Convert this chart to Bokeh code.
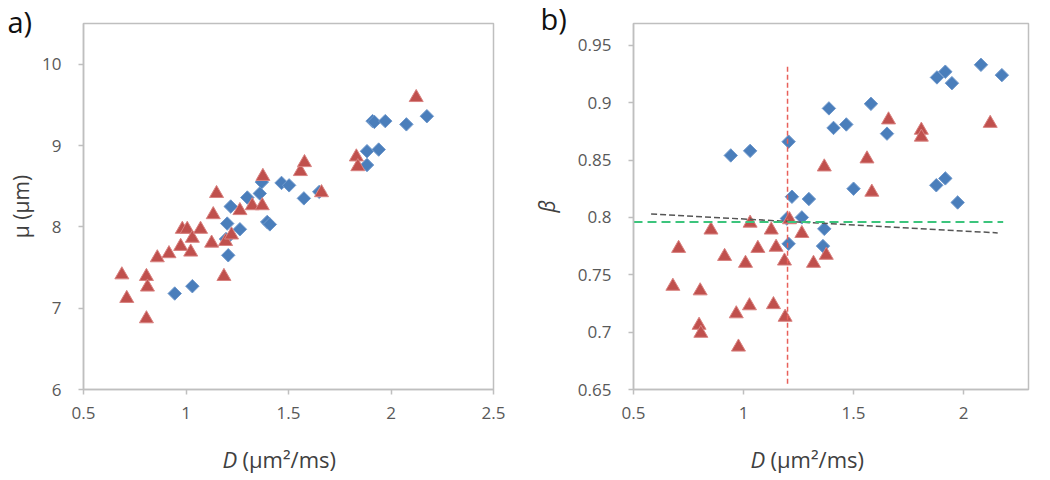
import numpy as np
from bokeh.plotting import figure
from bokeh.layouts import row
from bokeh.models import Title, Range1d, FixedTicker
from bokeh.embed import file_html
from bokeh.resources import INLINE

# ---- panel a) data: D vs mu ----
a_red_D = [0.687, 0.711, 0.807, 0.812, 0.807, 0.860, 0.917, 0.974, 0.982, 1.006,
           1.031, 1.023, 1.071, 1.125, 1.133, 1.149, 1.185, 1.193, 1.222, 1.263,
           1.323, 1.372, 1.375, 1.558, 1.578, 1.661, 1.831, 1.838, 2.123]
a_red_mu = [7.41, 7.12, 7.39, 7.26, 6.87, 7.62, 7.67, 7.76, 7.97, 7.97,
            7.86, 7.69, 7.97, 7.80, 8.15, 8.41, 7.39, 7.82, 7.90, 8.20,
            8.26, 8.26, 8.62, 8.68, 8.79, 8.42, 8.86, 8.74, 9.59]
a_blue_D = [0.945, 1.031, 1.206, 1.201, 1.218, 1.195, 1.263, 1.299, 1.360, 1.370,
            1.396, 1.409, 1.466, 1.503, 1.575, 1.650, 1.883, 1.883, 1.910, 1.919,
            1.940, 1.972, 2.075, 2.175]
a_blue_mu = [7.18, 7.27, 7.65, 8.04, 8.25, 7.85, 7.97, 8.36, 8.41, 8.55,
             8.06, 8.03, 8.54, 8.51, 8.35, 8.43, 8.76, 8.93, 9.30, 9.29,
             8.95, 9.30, 9.26, 9.36]

# ---- panel b) data: D vs beta ----
b_red_D = [0.679, 0.705, 0.803, 0.798, 0.806, 0.852, 0.914, 0.967, 0.977, 1.009,
           1.027, 1.030, 1.065, 1.126, 1.136, 1.148, 1.186, 1.189, 1.209, 1.265,
           1.318, 1.367, 1.376, 1.561, 1.583, 1.659, 1.808, 1.808, 2.121]
b_red_beta = [0.740, 0.773, 0.736, 0.706, 0.699, 0.789, 0.766, 0.716, 0.687, 0.760,
              0.723, 0.795, 0.773, 0.789, 0.724, 0.774, 0.762, 0.713, 0.798, 0.786,
              0.760, 0.844, 0.767, 0.851, 0.822, 0.885, 0.876, 0.870, 0.882]
b_blue_D = [0.942, 1.030, 1.205, 1.220, 1.197, 1.205, 1.265, 1.297, 1.367, 1.361,
            1.388, 1.409, 1.467, 1.500, 1.579, 1.652, 1.876, 1.917, 1.879, 1.917,
            1.947, 1.973, 2.079, 2.174]
b_blue_beta = [0.854, 0.858, 0.866, 0.818, 0.799, 0.777, 0.800, 0.816, 0.790, 0.775,
               0.895, 0.878, 0.881, 0.825, 0.899, 0.873, 0.828, 0.834, 0.922, 0.927,
               0.917, 0.813, 0.933, 0.924]

# reference lines in panel b)
vline_D = [1.2, 1.2]
vline_beta = [0.655, 0.932]
green_D = [0.5, 2.18]
green_beta = [0.796, 0.796]
trend_D = [0.58, 2.155]
trend_beta = [0.803, 0.7865]

a_xticks = [0.5, 1, 1.5, 2, 2.5]
a_yticks = [6, 7, 8, 9, 10]
b_xticks = [0.5, 1, 1.5, 2]
b_yticks = [0.65, 0.7, 0.75, 0.8, 0.85, 0.9, 0.95]

RED = "#C0504D"
RED_EDGE = "#D98280"
BLUE = "#4A7EBB"
BLUE_EDGE = "#6F98CC"
FONT = "Open Sans"
FRAME = "#BFBFBF"
TICKC = "#595959"
LABC = "#404040"


def style(p, xticks, yticks):
    p.xgrid.visible = False
    p.ygrid.visible = False
    p.outline_line_color = FRAME
    p.outline_line_width = 1.5
    for ax in (p.xaxis[0], p.yaxis[0]):
        ax.axis_line_color = FRAME
        ax.axis_line_width = 1.5
        ax.major_tick_line_color = FRAME
        ax.major_tick_line_width = 1.5
        ax.major_tick_in = 0
        ax.major_tick_out = 5
        ax.minor_tick_line_color = None
        ax.major_label_text_font = FONT
        ax.major_label_text_font_size = "17px"
        ax.major_label_text_color = TICKC
        ax.axis_label_text_font = FONT
        ax.axis_label_text_font_size = "21px"
        ax.axis_label_text_color = LABC
        ax.axis_label_text_font_style = "normal"
    p.xaxis[0].ticker = FixedTicker(ticks=xticks)
    p.yaxis[0].ticker = FixedTicker(ticks=yticks)
    p.xaxis[0].major_label_standoff = 12
    p.yaxis[0].major_label_standoff = 17


def panel_letter(p, letter, offset, standoff):
    p.title.text = letter
    p.title.align = "left"
    p.title.offset = offset
    p.title.vertical_align = "bottom"
    p.title.standoff = standoff
    p.title.text_font = FONT
    p.title.text_font_size = "29px"
    p.title.text_font_style = "normal"
    p.title.text_color = "#111111"


def xlabel(p, xoff):
    t1 = Title(text="D", align="left", offset=xoff, vertical_align="bottom", standoff=-104,
               text_font=FONT, text_font_size="22px", text_font_style="italic",
               text_color=LABC)
    t2 = Title(text="(µm²/ms)", align="left", offset=xoff + 20, vertical_align="bottom",
               standoff=-104, text_font=FONT, text_font_size="22px",
               text_font_style="normal", text_color=LABC)
    p.add_layout(t1, "below")
    p.add_layout(t2, "below")


# ---- figure a ----
pa = figure(frame_width=410, frame_height=366, output_backend="svg",
            toolbar_location=None, x_range=Range1d(0.5, 2.5), y_range=Range1d(6, 10.5),
            min_border_left=83, min_border_right=27, min_border_top=23, min_border_bottom=88)
style(pa, a_xticks, a_yticks)
pa.yaxis[0].axis_label = "μ (μm)"
pa.yaxis[0].axis_label_standoff = 4
pa.scatter(a_blue_D, a_blue_mu, marker="square", angle=np.pi / 4, size=9.5,
           fill_color=BLUE, line_color=BLUE_EDGE, line_width=1)
pa.scatter(a_red_D, a_red_mu, marker="triangle", size=14,
           fill_color=RED, line_color=RED_EDGE, line_width=1)
xlabel(pa, 139)
panel_letter(pa, "a)", -76, -34)

# ---- figure b ----
pb = figure(frame_width=395, frame_height=366, output_backend="svg",
            toolbar_location=None, x_range=Range1d(0.5, 2.295), y_range=Range1d(0.65, 0.969),
            min_border_left=113, min_border_right=14, min_border_top=23, min_border_bottom=88)
style(pb, b_xticks, b_yticks)
pb.yaxis[0].axis_label = "β"
pb.yaxis[0].axis_label_text_font_style = "italic"
pb.yaxis[0].axis_label_standoff = 14
pb.scatter(b_blue_D, b_blue_beta, marker="square", angle=np.pi / 4, size=9.5,
           fill_color=BLUE, line_color=BLUE_EDGE, line_width=1)
pb.scatter(b_red_D, b_red_beta, marker="triangle", size=14,
           fill_color=RED, line_color=RED_EDGE, line_width=1)
pb.line(vline_D, vline_beta, line_color="#E8605A", line_dash="5 3", line_width=1.5)
pb.line(trend_D, trend_beta, line_color="#555555", line_dash="6 3", line_width=1.5)
pb.line(green_D, green_beta, line_color="#3CC47C", line_dash="9 5", line_width=2)
xlabel(pb, 117)
panel_letter(pb, "b)", -93, -28)

layout = row(pa, pb, spacing=0)
open("out.html", "w").write(file_html(layout, INLINE))
